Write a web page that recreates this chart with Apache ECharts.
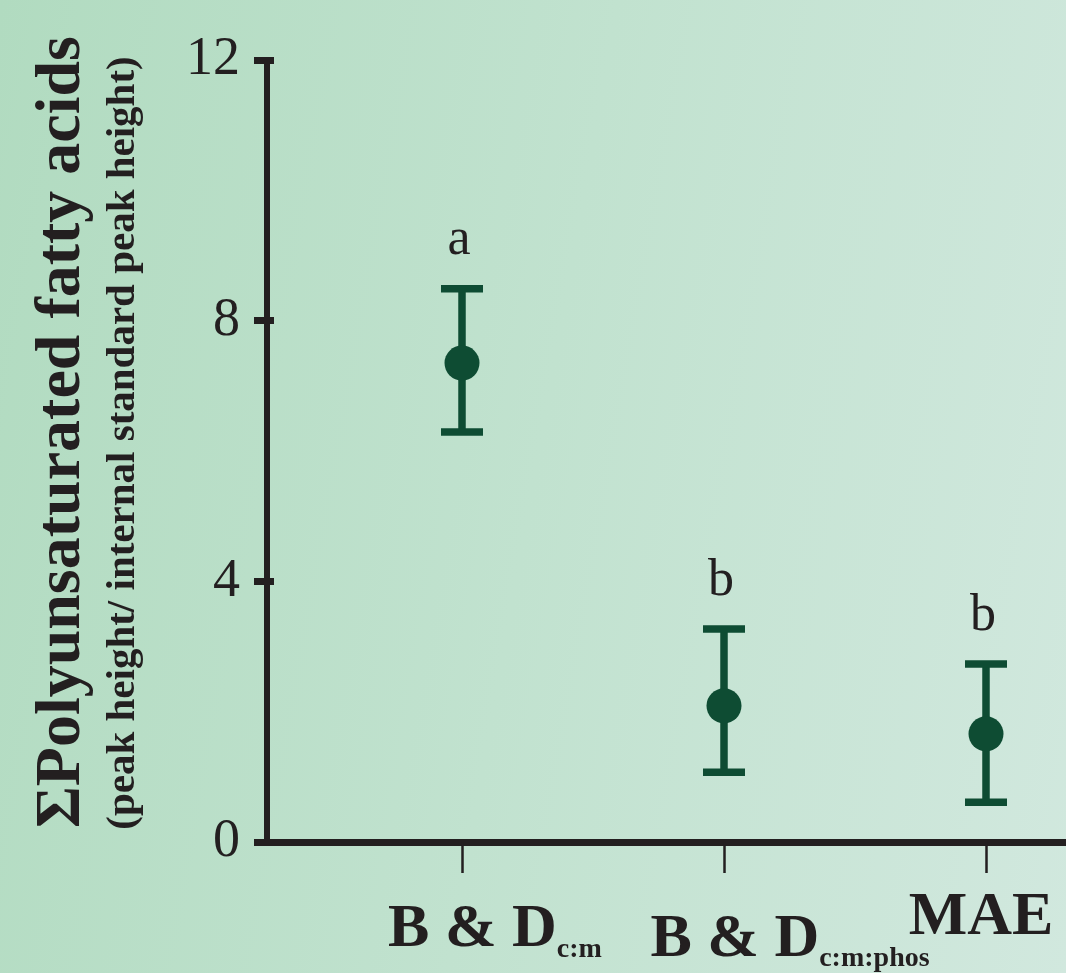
<!DOCTYPE html>
<html>
<head>
<meta charset="utf-8">
<script src="https://cdn.jsdelivr.net/npm/echarts@6/dist/echarts.min.js"></script>
<style>
html, body { margin: 0; padding: 0; }
#main { width: 1066px; height: 973px; background: linear-gradient(100deg, #b1dbc0 0%, #c1e2cf 50%, #d1e8de 100%); }
</style>
</head>
<body>
<div id="main"></div>
<script>
// 数据
var categories = ['B & D c:m', 'B & D c:m:phos', 'MAE'];
var means = [7.35, 2.09, 1.66];
var upper = [8.49, 3.27, 2.73];
var lower = [6.29, 1.07, 0.61];
var letters = ['a', 'b', 'b'];
var yTicks = [0, 4, 8, 12];

var ink = '#231f20';
var green = '#0e4c33';
var serif = '"Liberation Serif", "Times New Roman", serif';

var myChart = echarts.init(document.getElementById('main'));

var errData = upper.map(function (u, i) { return [i, u, lower[i], letters[i]]; });

function big(pt) {
    return { fontFamily: serif, fontWeight: 'bold', fontSize: 62, color: ink, verticalAlign: 'top', padding: [pt, 0, 0, 0] };
}
function sub(pt) {
    return { fontFamily: serif, fontWeight: 'bold', fontSize: 28, color: ink, verticalAlign: 'top', padding: [pt, 0, 0, 0] };
}

option = {
    animation: false,
    textStyle: { fontFamily: serif },
    graphic: [
        {
            type: 'text',
            x: 62, y: 432,
            rotation: Math.PI / 2,
            style: {
                text: 'ΣPolyunsaturated fatty acids',
                font: 'bold 64px ' + serif,
                fill: ink,
                align: 'center', verticalAlign: 'middle'
            }
        },
        {
            type: 'text',
            x: 123, y: 443,
            rotation: Math.PI / 2,
            style: {
                text: '(peak height/ internal standard peak height)',
                font: 'bold 41px ' + serif,
                fill: ink,
                align: 'center', verticalAlign: 'middle'
            }
        }
    ],
    grid: [
        { left: 267, right: 0, top: 60, bottom: 131 },
        { left: 462, width: 524, top: 60, bottom: 131 }
    ],
    xAxis: [
        {
            gridIndex: 0,
            type: 'value',
            min: 0, max: 1,
            axisLine: { show: true, lineStyle: { color: ink, width: 7 } },
            axisTick: { show: false },
            axisLabel: { show: false },
            splitLine: { show: false }
        },
        {
            gridIndex: 1,
            type: 'category',
            data: categories,
            boundaryGap: false,
            axisLine: { show: false },
            axisTick: { show: true, length: 31, lineStyle: { color: ink, width: 2.5 } },
            axisLabel: {
                interval: 0,
                margin: 40,
                formatter: function (v, i) {
                    if (i === 0) return '{p0|}{m0|B & D}{s0|c:m}';
                    if (i === 1) return '{p1|}{m1|B & D}{s1|c:m:phos}';
                    return '{m2|MAE}{p2|}';
                },
                rich: {
                    p0: { width: 66, height: 1 },
                    p1: { width: 132, height: 1 },
                    p2: { width: 10, height: 1 },
                    m0: big(17),
                    m1: big(27),
                    m2: big(5),
                    s0: sub(54),
                    s1: sub(63)
                }
            },
            splitLine: { show: false }
        }
    ],
    yAxis: [
        {
            gridIndex: 0,
            type: 'value',
            position: 'left',
            min: yTicks[0], max: yTicks[yTicks.length - 1], interval: 4,
            axisLine: { show: true, lineStyle: { color: ink, width: 6 } },
            axisTick: { show: true, length: 13, lineStyle: { color: ink, width: 7 } },
            axisLabel: { margin: 27, fontSize: 54, color: ink, fontFamily: serif },
            splitLine: { show: false }
        },
        {
            gridIndex: 0,
            type: 'value',
            position: 'left',
            min: yTicks[0], max: yTicks[yTicks.length - 1], interval: 4,
            axisLine: { show: false },
            axisTick: { show: true, inside: true, length: 7, lineStyle: { color: ink, width: 7 } },
            axisLabel: { show: false },
            splitLine: { show: false }
        },
        {
            gridIndex: 1,
            type: 'value',
            min: yTicks[0], max: yTicks[yTicks.length - 1],
            show: false
        }
    ],
    series: [
        {
            type: 'custom',
            xAxisIndex: 1,
            yAxisIndex: 2,
            data: errData,
            z: 2,
            renderItem: function (params, api) {
                var hi = api.coord([api.value(0), api.value(1)]);
                var lo = api.coord([api.value(0), api.value(2)]);
                var half = 21;
                var st = { stroke: green, lineWidth: 7.5 };
                return {
                    type: 'group',
                    children: [
                        { type: 'line', shape: { x1: hi[0], y1: hi[1], x2: lo[0], y2: lo[1] }, style: st },
                        { type: 'line', shape: { x1: hi[0] - half, y1: hi[1], x2: hi[0] + half, y2: hi[1] }, style: st },
                        { type: 'line', shape: { x1: lo[0] - half, y1: lo[1], x2: lo[0] + half, y2: lo[1] }, style: st },
                        {
                            type: 'text',
                            x: hi[0] - 3, y: hi[1] - 48,
                            style: {
                                text: api.value(3),
                                font: '52px ' + serif,
                                fill: ink,
                                align: 'center', verticalAlign: 'middle'
                            }
                        }
                    ]
                };
            }
        },
        {
            type: 'scatter',
            xAxisIndex: 1,
            yAxisIndex: 2,
            data: means,
            symbol: 'circle',
            symbolSize: 35,
            z: 3,
            itemStyle: { color: green, opacity: 1 }
        }
    ]
};

myChart.setOption(option);
</script>
</body>
</html>
